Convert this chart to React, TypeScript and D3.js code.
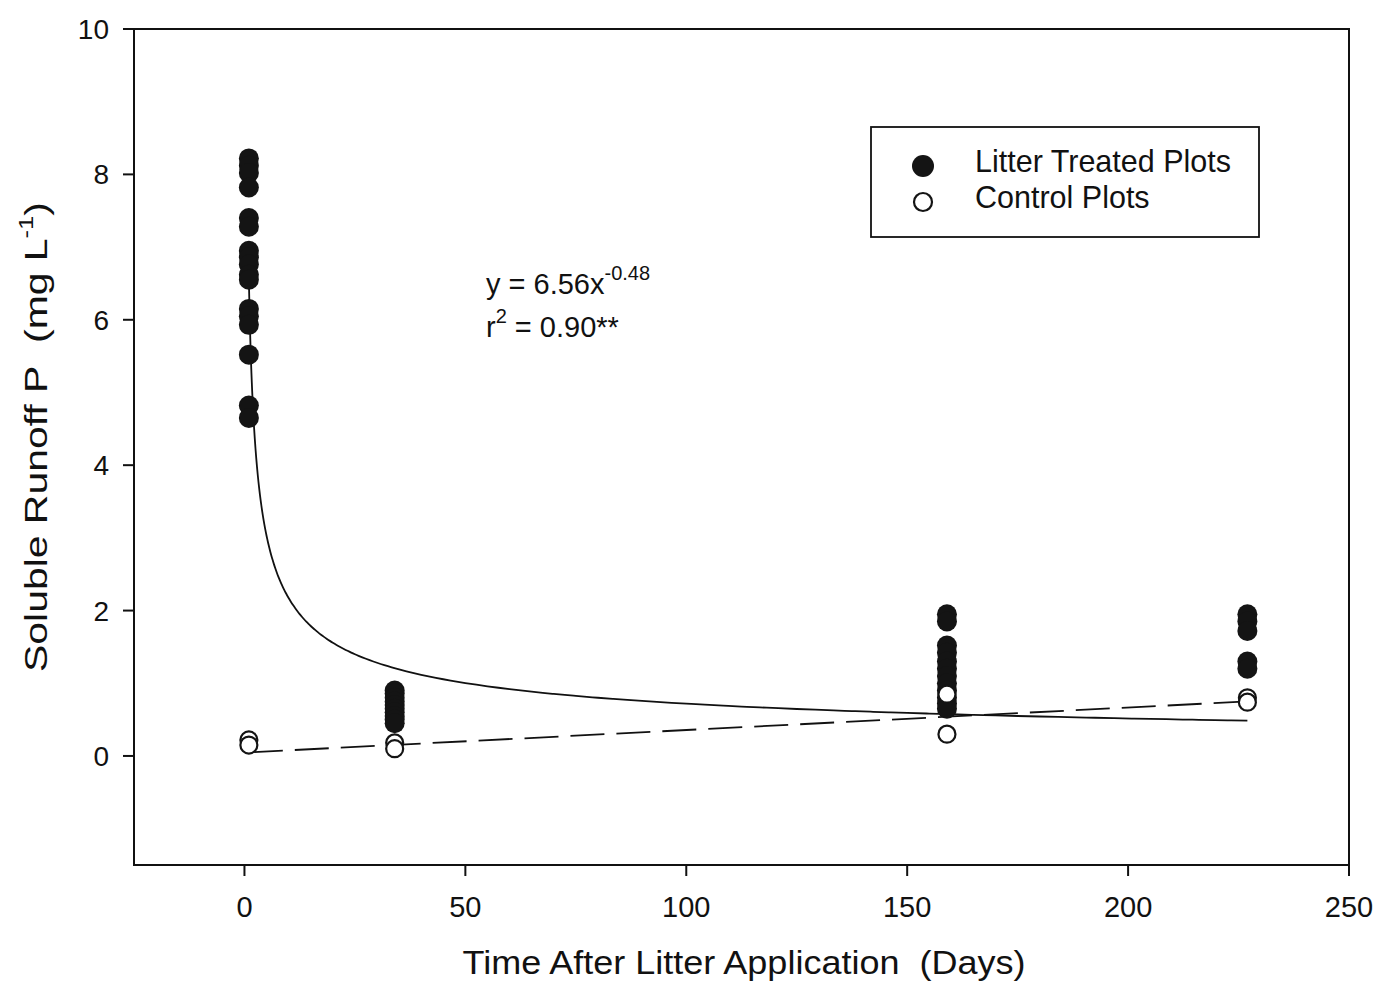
import React from "react";
import * as d3 from "d3";

const yTicks = [0, 2, 4, 6, 8, 10];
const xTicks = [0, 50, 100, 150, 200, 250];

const litterDays = [1, 34, 159, 227];
const litterValues: number[][] = [
  [8.22, 8.12, 8.02, 7.82, 7.4, 7.28, 6.95, 6.86, 6.76, 6.62, 6.55, 6.15, 6.05, 5.93, 5.52, 4.82, 4.65],
  [0.9, 0.86, 0.8, 0.75, 0.7, 0.65, 0.6, 0.55, 0.5, 0.45],
  [1.95, 1.85, 1.52, 1.42, 1.3, 1.2, 1.1, 1.0, 0.9, 0.8, 0.72, 0.65],
  [1.95, 1.85, 1.72, 1.3, 1.2],
];

const controlDays = [1, 1, 34, 34, 159, 159, 227, 227];
const controlValues = [0.22, 0.15, 0.18, 0.1, 0.85, 0.3, 0.8, 0.74];

// regression curve for litter plots, from the equation printed on the chart
const fitA = 6.56;
const fitB = -0.48;
const fitDays = [1, 1.5, 2, 3, 4, 5, 6, 8, 10, 13, 16, 20, 25, 30, 40, 50, 65, 80, 100, 125, 150, 180, 205, 227];

// linear fit for control plots (end points)
const controlFitDays = [1, 227];
const controlFitValues = [0.05, 0.75];

const font = "'Liberation Sans', Arial, sans-serif";

export default function App() {
  const left = 134, right = 1349, top = 29, bottom = 865;
  const x = d3.scaleLinear().domain([-25, 250]).range([left, right]);
  const y = d3.scaleLinear().domain([-1.5, 10]).range([bottom, top]);

  const fitLine = d3
    .line<number>()
    .x((d) => x(d))
    .y((d) => y(fitA * Math.pow(d, fitB)))
    .curve(d3.curveMonotoneX);

  const ctrlLine = d3
    .line<number>()
    .x((d) => x(d))
    .y((_, i) => y(controlFitValues[i]));

  const fitDense: number[] = [];
  fitDays.forEach((d, i) => {
    if (i === 0) { fitDense.push(d); return; }
    const p = fitDays[i - 1];
    for (let k = 1; k <= 6; k++) fitDense.push(p + ((d - p) * k) / 6);
  });

  return (
    <svg width={1384} height={987} style={{ display: "block", position: "absolute", left: 0, top: 0, background: "#fff" }}>
      <rect x={0} y={0} width={1384} height={987} fill="#fff" />
      {/* frame */}
      <rect x={left} y={top} width={right - left} height={bottom - top} fill="none" stroke="#111" strokeWidth={2} />
      {/* y ticks */}
      {yTicks.map((t) => (
        <g key={"y" + t}>
          <line x1={left - 11} x2={left} y1={y(t)} y2={y(t)} stroke="#111" strokeWidth={2} />
          <text x={109} y={y(t)} dy="0.36em" textAnchor="end" fontFamily={font} fontSize={28} fill="#111">
            {t}
          </text>
        </g>
      ))}
      {/* x ticks */}
      {xTicks.map((t) => (
        <g key={"x" + t}>
          <line x1={x(t)} x2={x(t)} y1={bottom} y2={bottom + 11} stroke="#111" strokeWidth={2} />
          <text x={x(t)} y={917} textAnchor="middle" fontFamily={font} fontSize={29} fill="#111">
            {t}
          </text>
        </g>
      ))}
      {/* axis titles */}
      <text
        x={744}
        y={974}
        textAnchor="middle"
        fontFamily={font}
        fontSize={34}
        fill="#111"
        textLength={563}
        lengthAdjust="spacingAndGlyphs"
        xmlSpace="preserve"
      >
        {"Time After Litter Application\u00a0 (Days)"}
      </text>
      <text
        transform="translate(47,437) rotate(-90)"
        textAnchor="middle"
        fontFamily={font}
        fontSize={32}
        fill="#111"
        textLength={470}
        lengthAdjust="spacingAndGlyphs"
      >
        {"Soluble Runoff P\u00a0 (mg L"}<tspan dy={-14} fontSize={20}>-1</tspan><tspan dy={14}>)</tspan>
      </text>

      {/* fit curves */}
      <path d={fitLine(fitDense) || ""} fill="none" stroke="#111" strokeWidth={1.8} />
      <path d={ctrlLine(controlFitDays) || ""} fill="none" stroke="#111" strokeWidth={1.8} strokeDasharray="34,12" />

      {/* litter points */}
      {litterDays.map((d, i) =>
        litterValues[i].map((v, j) => (
          <circle key={`l${i}-${j}`} cx={x(d)} cy={y(v)} r={10} fill="#141414" />
        ))
      )}
      {/* control points */}
      {controlDays.map((d, i) => (
        <circle key={"c" + i} cx={x(d)} cy={y(controlValues[i])} r={8.5} fill="#fff" stroke="#141414" strokeWidth={2.2} />
      ))}

      {/* equation */}
      <text x={486} y={294} fontFamily={font} fontSize={29} fill="#111">
        y = 6.56x<tspan dy={-14} fontSize={20}>-0.48</tspan>
      </text>
      <text x={486} y={337} fontFamily={font} fontSize={29} fill="#111">
        r<tspan dy={-14} fontSize={20}>2</tspan><tspan dy={14}> = 0.90**</tspan>
      </text>

      {/* legend */}
      <rect x={871} y={127} width={388} height={110} fill="#fff" stroke="#111" strokeWidth={1.8} />
      <circle cx={923} cy={166} r={11} fill="#141414" />
      <circle cx={923} cy={202} r={9} fill="#fff" stroke="#141414" strokeWidth={2.2} />
      <text x={975} y={172} fontFamily={font} fontSize={30.5} fill="#111">Litter Treated Plots</text>
      <text x={975} y={208} fontFamily={font} fontSize={30.5} fill="#111">Control Plots</text>
    </svg>
  );
}
